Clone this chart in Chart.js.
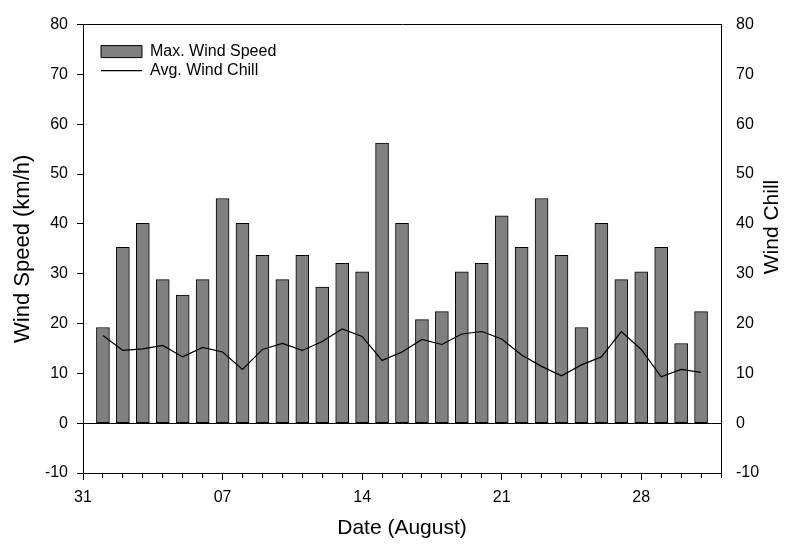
<!DOCTYPE html>
<html>
<head>
<meta charset="utf-8">
<script src="https://cdn.jsdelivr.net/npm/chart.js@4/dist/chart.umd.min.js"></script>
<style>
  html, body { margin: 0; padding: 0; background: #fff; }
  #wrap { width: 789px; height: 544px; }
</style>
</head>
<body>
<div id="wrap"><canvas id="wind-chart" width="789" height="544"></canvas></div>
<script>
'use strict';

// days after 31 July (1 = Aug 1)
const dayPos = [1, 2, 3, 4, 5, 6, 7, 8, 9, 10, 11, 12, 13, 14, 15, 16, 17, 18, 19, 20, 21, 22, 23, 24, 25, 26, 27, 28, 29, 30, 31];
const maxWindSpeed = [19.2, 35.3, 40.1, 28.8, 25.7, 28.8, 45.1, 40.1, 33.7, 28.8, 33.7, 27.3, 32.1, 30.4, 56.2, 40.1,
  20.8, 22.4, 30.4, 32.1, 41.6, 35.3, 45.1, 33.7, 19.2, 40.1, 28.8, 30.4, 35.3, 16.0, 22.4];
const avgWindChill = [17.6, 14.6, 14.9, 15.6, 13.3, 15.2, 14.3, 10.8, 14.8, 16.0, 14.6, 16.4, 18.9, 17.4, 12.6, 14.3,
  16.8, 15.8, 17.9, 18.4, 16.9, 13.7, 11.4, 9.5, 11.7, 13.3, 18.4, 14.8, 9.3, 10.8, 10.2];
const xTickValues = [0, 7, 14, 21, 28];
const xTickLabels = ['31', '07', '14', '21', '28'];

const FONT = "'Liberation Sans', Arial, sans-serif";
const tickFont = { family: FONT, size: 16 };
const titleFont = { family: FONT, size: 21 };

// legend sits inside the plot, away from the corner
// (a vertical chartArea legend gets top = 0 from layout, so set it outright)
const legendNudge = {
  id: 'legendNudge',
  afterLayout(chart) {
    const lg = chart.legend, area = chart.chartArea;
    if (!lg) return;
    const h = lg.bottom - lg.top;
    lg.left = area.left + 15;
    lg.top = area.top + 16;
    lg.bottom = lg.top + h;
  }
};

// right-hand title reads bottom-to-top like the left one
const rightTitle = {
  id: 'rightTitle',
  afterDraw(chart) {
    const ctx = chart.ctx;
    ctx.save();
    ctx.translate(772, 227);
    ctx.rotate(-Math.PI / 2);
    ctx.font = `21px ${FONT}`;
    ctx.fillStyle = '#000';
    ctx.textAlign = 'center';
    ctx.textBaseline = 'middle';
    ctx.fillText('Wind Chill', 0, 0);
    ctx.restore();
  }
};

const ctx = document.getElementById('wind-chart').getContext('2d');
new Chart(ctx, {
  type: 'bar',
  data: {
    datasets: [{
      type: 'bar',
      label: 'Max. Wind Speed',
      data: dayPos.map((d, i) => ({ x: d, y: maxWindSpeed[i] })),
      backgroundColor: '#808080',
      borderColor: '#000',
      borderWidth: 1,
      borderSkipped: false,
      barThickness: 13,
      pointStyle: 'rect',
      yAxisID: 'y',
      order: 2,
    }, {
      type: 'line',
      label: 'Avg. Wind Chill',
      data: dayPos.map((d, i) => ({ x: d, y: avgWindChill[i] })),
      borderColor: '#000',
      backgroundColor: '#000',
      borderWidth: 1.2,
      pointRadius: 0,
      tension: 0,
      pointStyle: 'line',
      yAxisID: 'y2',
      order: 1,
    }]
  },
  options: {
    responsive: false,
    animation: false,
    devicePixelRatio: 1,
    layout: { padding: 0 },
    plugins: {
      tooltip: { enabled: false },
      legend: {
        position: 'chartArea',
        align: 'start',
        labels: {
          color: '#000',
          font: tickFont,
          usePointStyle: true,
          pointStyleWidth: 41,
          boxHeight: 12,
          padding: 3,
          sort: (a, b) => a.datasetIndex - b.datasetIndex,
        }
      }
    },
    scales: {
      x: {
        type: 'linear',
        position: 'bottom',
        min: 0, max: 32,
        offset: false,
        afterFit: s => { s.height = 71; },
        border: { display: true, color: '#000', width: 1 },
        grid: {
          offset: false,
          drawOnChartArea: false,
          tickLength: 7,
          tickWidth: 1,
          tickColor: '#000',
          // short marks for days, full length at the weekly labels
          tickBorderDash: c => (c.tick && c.tick.value % 7 === 0) ? [] : [4, 20],
        },
        ticks: {
          stepSize: 1,
          autoSkip: false,
          maxRotation: 0,
          padding: 8,
          color: '#000',
          font: tickFont,
          callback: v => {
            const k = xTickValues.indexOf(v);
            return k >= 0 ? xTickLabels[k] : '';
          }
        },
        title: { display: true, text: 'Date (August)', color: '#000', font: titleFont, padding: { top: 0, bottom: 3 } }
      },
      xTop: {
        type: 'linear',
        position: 'top',
        min: 0, max: 32,
        afterFit: s => { s.height = 20; },
        border: { display: true, color: '#000', width: 1 },
        grid: { display: false },
        ticks: { display: false }
      },
      y: {
        type: 'linear',
        position: 'left',
        min: -10, max: 80,
        afterFit: s => { s.width = 83; },
        border: { display: true, color: '#000', width: 1 },
        grid: {
          color: c => (c.tick && c.tick.value === 0) ? '#000' : 'rgba(0,0,0,0)',
          tickColor: '#000',
          tickLength: 6,
        },
        ticks: { stepSize: 10, padding: 9, color: '#000', font: tickFont },
        title: { display: true, text: 'Wind Speed (km/h)', color: '#000', font: { family: FONT, size: 22 }, padding: { top: 10, bottom: 0 } }
      },
      y2: {
        type: 'linear',
        position: 'right',
        min: -10, max: 80,
        afterFit: s => { s.width = 68; },
        border: { display: true, color: '#000', width: 1 },
        grid: { drawOnChartArea: false, drawTicks: false },
        ticks: { stepSize: 10, padding: 15, color: '#000', font: tickFont }
      }
    }
  },
  plugins: [legendNudge, rightTitle]
});
</script>
</body>
</html>
